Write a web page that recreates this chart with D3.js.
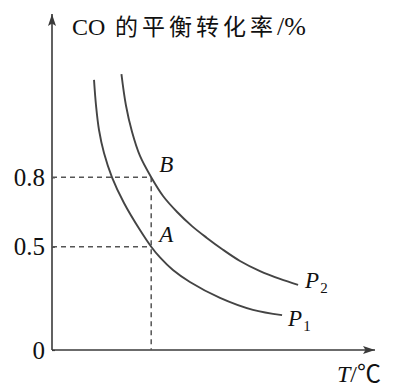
<!DOCTYPE html>
<html>
<head>
<meta charset="utf-8">
<script src="https://cdn.jsdelivr.net/npm/d3@7"></script>
<style>
  body { margin: 0; background: #fff; }
  svg { display: block; }
  .lbl { font-family: "Liberation Serif", "Noto Sans CJK SC", serif; fill: #111; }
</style>
</head>
<body>
<div id="chart"></div>
<script>
// temperature (arbitrary units) and CO conversion
var p1T = [13.13, 13.75, 14.69, 16.25, 18.75, 22.5, 27.5, 31, 33.75, 37.8, 43.1, 52.5, 62.8, 71.9];
var p1Conv = [0.969, 0.925, 0.882, 0.842, 0.80, 0.689, 0.572, 0.5, 0.448, 0.387, 0.329, 0.252, 0.194, 0.169];

var p2T = [21.7, 23.1, 25, 27.5, 31, 34.7, 39.1, 43.75, 48.4, 53.1, 58.75, 65, 71.25, 76.9];
var p2Conv = [0.979, 0.925, 0.879, 0.837, 0.80, 0.719, 0.650, 0.589, 0.538, 0.489, 0.431, 0.382, 0.344, 0.315];

var yTicks = [0, 0.5, 0.8];
var pointA = {T: 31, conv: 0.5, name: "A"};
var pointB = {T: 31, conv: 0.8, name: "B"};

var width = 399, height = 389;

var svg = d3.select("#chart")
    .append("svg")
    .attr("width", width)
    .attr("height", height);

// schematic axes: x is plain, y is stretched piecewise like the sketch
var x = d3.scaleLinear()
    .domain([0, 100])
    .range([52, 372]);

var y = d3.scaleLinear()
    .domain([0, 0.5, 0.8, 1])
    .range([350, 246.7, 177.3, 62]);

var axisColor = "#3a3a3a";

// arrow heads
var defs = svg.append("defs");
defs.append("marker")
    .attr("id", "arrow")
    .attr("viewBox", "0 0 12 8")
    .attr("refX", 12)
    .attr("refY", 4)
    .attr("markerWidth", 12)
    .attr("markerHeight", 8)
    .attr("markerUnits", "userSpaceOnUse")
    .attr("orient", "auto")
    .append("path")
    .attr("d", "M0,0 L12,4 L0,8 L2.5,4 Z")
    .attr("fill", axisColor);

// axis lines
svg.append("line")
    .attr("x1", x(0)).attr("y1", y(0))
    .attr("x2", x(0)).attr("y2", 14)
    .attr("stroke", axisColor)
    .attr("stroke-width", 1.6)
    .attr("marker-end", "url(#arrow)");

svg.append("line")
    .attr("x1", x(0)).attr("y1", y(0))
    .attr("x2", 375).attr("y2", y(0))
    .attr("stroke", axisColor)
    .attr("stroke-width", 1.6)
    .attr("marker-end", "url(#arrow)");

// y tick labels
var yAxis = d3.axisLeft(y)
    .tickValues(yTicks)
    .tickFormat(d => d === 0 ? "0" : d3.format(".1f")(d))
    .tickSizeInner(-3)
    .tickSizeOuter(0)
    .tickPadding(7);

var yg = svg.append("g")
    .attr("transform", `translate(${x(0)},0)`)
    .call(yAxis);
yg.select(".domain").remove();
yg.selectAll(".tick line").attr("stroke", axisColor).attr("stroke-width", 1.2);
yg.selectAll(".tick text")
    .attr("class", "lbl")
    .style("font-size", "25px")
    .attr("fill", "#111");

// dashed guides
var dash = svg.append("g")
    .attr("stroke", "#555")
    .attr("stroke-width", 1.5)
    .attr("stroke-dasharray", "5,4");

[pointA, pointB].forEach(p => {
    dash.append("line")
        .attr("x1", x(0)).attr("y1", y(p.conv))
        .attr("x2", x(p.T)).attr("y2", y(p.conv));
});
dash.append("line")
    .attr("x1", x(pointB.T)).attr("y1", y(pointB.conv))
    .attr("x2", x(pointB.T)).attr("y2", y(0));

// curves
var line = d3.line()
    .x(d => x(d[0]))
    .y(d => y(d[1]))
    .curve(d3.curveCatmullRom.alpha(0.5));

[[p1T, p1Conv], [p2T, p2Conv]].forEach(s => {
    svg.append("path")
        .datum(d3.zip(s[0], s[1]))
        .attr("d", line)
        .attr("fill", "none")
        .attr("stroke", "#444")
        .attr("stroke-width", 1.9);
});

// point labels
[pointA, pointB].forEach(p => {
    svg.append("text")
        .attr("class", "lbl")
        .attr("x", x(p.T) + 8)
        .attr("y", y(p.conv) - 5)
        .style("font-size", "23px")
        .style("font-style", "italic")
        .text(p.name);
});

// curve labels
function curveLabel(tx, ty, sub) {
    var t = svg.append("text")
        .attr("class", "lbl")
        .attr("x", tx)
        .attr("y", ty)
        .style("font-size", "23px");
    t.append("tspan").style("font-style", "italic").text("P");
    t.append("tspan")
        .attr("dy", 5)
        .attr("dx", 1)
        .style("font-size", "15px")
        .text(sub);
}
curveLabel(x(p2T[p2T.length - 1]) + 7, y(p2Conv[p2Conv.length - 1]) + 3, "2");
curveLabel(x(p1T[p1T.length - 1]) + 6, y(p1Conv[p1Conv.length - 1]) + 11, "1");

// axis titles
var yt = svg.append("text")
    .attr("class", "lbl")
    .attr("y", 35)
    .style("font-size", "24px");
yt.append("tspan").attr("x", 72).text("CO");
yt.append("tspan").attr("x", 115)
    .attr("textLength", 158)
    .attr("lengthAdjust", "spacing")
    .style("font-size", "23px")
    .text("的平衡转化率");
yt.append("tspan").attr("x", 277).style("font-size", "26px").text("/%");

var xt = svg.append("text")
    .attr("class", "lbl")
    .attr("x", 337)
    .attr("y", 382)
    .style("font-size", "24px");
xt.append("tspan").style("font-style", "italic").text("T");
xt.append("tspan").text("/℃");
</script>
</body>
</html>
